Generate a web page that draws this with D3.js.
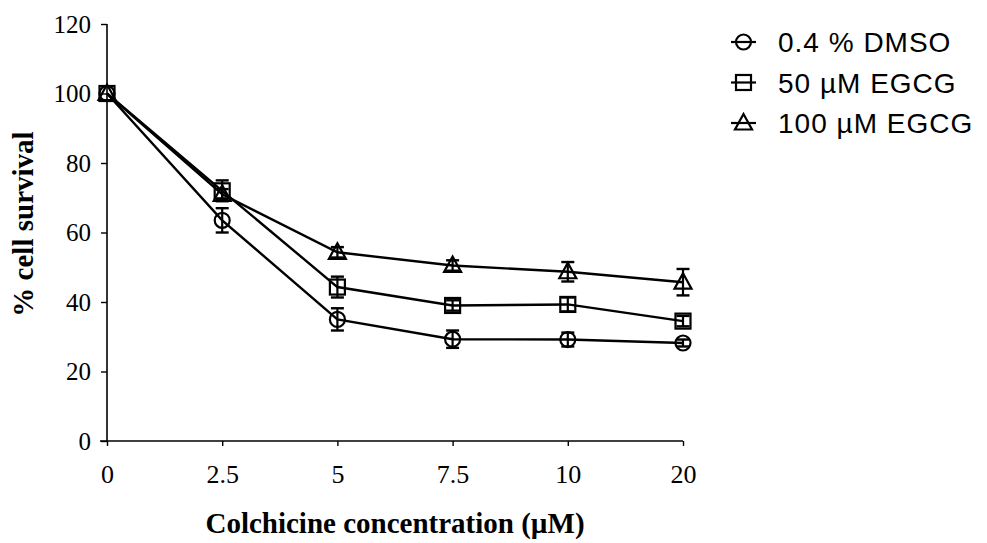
<!DOCTYPE html>
<html>
<head>
<meta charset="utf-8">
<script src="https://cdn.jsdelivr.net/npm/d3@7"></script>
<style>
  html, body { margin: 0; padding: 0; background: #fff; }
  svg { display: block; }
</style>
</head>
<body>
<svg id="chart" width="987" height="543"></svg>
<script>
const categories = ["0", "2.5", "5", "7.5", "10", "20"];
const yTicks = [0, 20, 40, 60, 80, 100, 120];
const seriesNames = ["0.4 % DMSO", "50 \u00b5M EGCG", "100 \u00b5M EGCG"];
const seriesSymbols = ["circle", "square", "triangle"];
const dmsoValues = [100, 63.5, 35, 29.3, 29.2, 28.2];
const dmsoErrors = [0, 3.5, 3.2, 2.5, 2, 1];
const egcg50Values = [100, 72, 44.3, 39, 39.3, 34.5];
const egcg50Errors = [0, 3, 3, 1.5, 2, 1.5];
const egcg100Values = [100, 71, 54.3, 50.5, 48.7, 45.7];
const egcg100Errors = [0, 1.5, 1.5, 1.5, 2.8, 3.8];

const valuesList = [dmsoValues, egcg50Values, egcg100Values];
const errorsList = [dmsoErrors, egcg50Errors, egcg100Errors];

const serif = "'Liberation Serif', 'Times New Roman', serif";
const svg = d3.select("#chart");
const x = d3.scalePoint().domain(categories).range([107, 683]);
const y = d3.scaleLinear().domain([0, 120]).range([441, 24]);

// Axes
const yAxis = d3.axisLeft(y).tickValues(yTicks).tickSize(6).tickPadding(10);
const gy = svg.append("g").attr("transform", "translate(107,0)").call(yAxis);
gy.select(".domain").attr("d", `M0,${y(120)}V${y(0)}`).attr("stroke", "#000").attr("stroke-width", 1.6);
gy.selectAll(".tick line").attr("stroke", "#000").attr("stroke-width", 1.4);
gy.selectAll(".tick text").attr("font-family", serif)
  .attr("font-size", 25).attr("fill", "#000");

const xAxis = d3.axisBottom(x).tickSize(5).tickPadding(19);
const gx = svg.append("g").attr("transform", "translate(0,441)").call(xAxis);
gx.select(".domain").attr("d", `M100,0H${x("20")}`).attr("stroke", "#000").attr("stroke-width", 1.6);
gx.selectAll(".tick line").attr("stroke", "#000").attr("stroke-width", 1.4);
gx.selectAll(".tick text").attr("font-family", serif)
  .attr("font-size", 26).attr("fill", "#000");

// Axis titles
svg.append("text").attr("x", 395).attr("y", 533).attr("text-anchor", "middle")
  .attr("font-family", serif)
  .attr("font-weight", "bold").attr("font-size", 29).text("Colchicine concentration (\u00b5M)");
svg.append("text").attr("transform", "translate(33,224) rotate(-90)").attr("text-anchor", "middle")
  .attr("font-family", serif)
  .attr("font-weight", "bold").attr("font-size", 29).text("% cell survival");

// Marker drawing
function drawMarker(g, type, cx, cy) {
  if (type === "circle") {
    g.append("circle").attr("cx", cx).attr("cy", cy).attr("r", 7.5)
      .attr("fill", "none").attr("stroke", "#000").attr("stroke-width", 2.2);
  } else if (type === "square") {
    g.append("rect").attr("x", cx - 7.5).attr("y", cy - 7.5).attr("width", 15).attr("height", 15)
      .attr("fill", "none").attr("stroke", "#000").attr("stroke-width", 2.2);
  } else {
    g.append("path").attr("d", `M${cx},${cy - 9}L${cx + 8.5},${cy + 6.5}L${cx - 8.5},${cy + 6.5}Z`)
      .attr("fill", "none").attr("stroke", "#000").attr("stroke-width", 2.2);
  }
}

const line = d3.line().x((d, i) => x(categories[i])).y(d => y(d));

valuesList.forEach((vals, s) => {
  const g = svg.append("g");
  g.append("path").datum(vals).attr("d", line).attr("fill", "none")
    .attr("stroke", "#000").attr("stroke-width", 2.4);
  vals.forEach((v, i) => {
    const e = errorsList[s][i];
    const cx = x(categories[i]);
    if (e > 0) {
      g.append("line").attr("x1", cx).attr("x2", cx).attr("y1", y(v + e)).attr("y2", y(v - e))
        .attr("stroke", "#000").attr("stroke-width", 2.2);
      [v + e, v - e].forEach(b => {
        g.append("line").attr("x1", cx - 6.5).attr("x2", cx + 6.5).attr("y1", y(b)).attr("y2", y(b))
          .attr("stroke", "#000").attr("stroke-width", 2.4);
      });
    }
    drawMarker(g, seriesSymbols[s], cx, y(v));
  });
});

// Legend
const legend = svg.append("g");
seriesNames.forEach((name, i) => {
  const ly = 42 + i * 40.5;
  legend.append("line").attr("x1", 731).attr("x2", 756).attr("y1", ly).attr("y2", ly)
    .attr("stroke", "#000").attr("stroke-width", 2.2);
  drawMarker(legend, seriesSymbols[i], 743.5, ly);
  legend.append("text").attr("x", 778).attr("y", ly + 10)
    .attr("font-family", "'Liberation Sans', Arial, sans-serif").attr("font-size", 28)
    .attr("letter-spacing", 1)
    .attr("fill", "#000").text(name);
});
</script>
</body>
</html>
